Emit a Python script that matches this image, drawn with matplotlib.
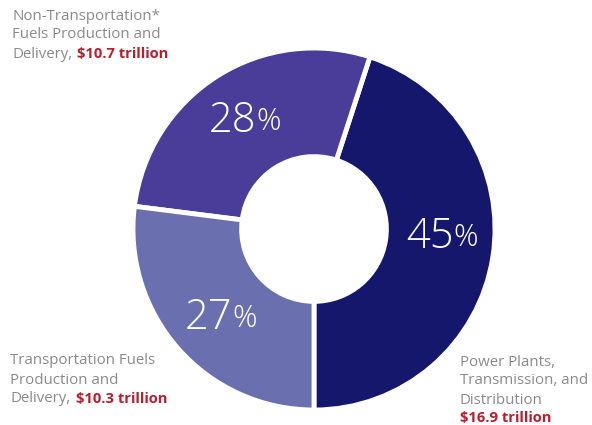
import matplotlib
matplotlib.use('Agg')
import matplotlib.pyplot as plt
import numpy as np

plt.rcParams['font.family'] = ['Open Sans', 'DejaVu Sans']

# data
shares = [45, 28, 27]
pct_labels = ['45', '28', '27']
colors = ['#15176d', '#4a3c99', '#6a6fb0']

W, H = 592, 425
fig = plt.figure(figsize=(W / 100, H / 100), dpi=100)

# donut centre / radius in pixels
cx, cy, R = 314, 229, 181
ax = fig.add_axes([(cx - R) / W, (H - cy - R) / H, 2 * R / W, 2 * R / H])

wedges, _ = ax.pie(shares, colors=colors, startangle=-90, counterclock=True,
                   radius=1.0,
                   wedgeprops=dict(width=0.6, edgecolor='white', linewidth=3.5))
ax.set_xlim(-1, 1)
ax.set_ylim(-1, 1)
ax.set_aspect('equal')
ax.axis('off')

# small nudges of the percent labels (axes units)
nudge = [(0.07, 0.07), (0.06, 0.0), (0.08, -0.02)]
for w, lab, (dx, dy) in zip(wedges, pct_labels, nudge):
    ang = np.deg2rad((w.theta1 + w.theta2) / 2)
    r = 0.71
    x, y = r * np.cos(ang) + dx, r * np.sin(ang) + dy
    ax.text(x, y, lab, color='white', fontsize=30, fontweight='light',
            ha='right', va='center')
    ax.text(x, y - 0.01, '%', color='white', fontsize=22, fontweight='light',
            ha='left', va='center')


def ftext(x, y, s, **kw):
    fig.text(x / W, 1 - y / H, s, va='center', ha='left', **kw)


gray = '#8a8a8a'
red = '#b51f2e'
fs = 10.8
fsr = 10.6

# top-left label
ftext(12, 16, 'Non-Transportation*', color=gray, fontsize=fs)
ftext(12, 35, 'Fuels Production and', color=gray, fontsize=fs)
ftext(12, 54, 'Delivery,', color=gray, fontsize=fs)
ftext(77, 54, '$10.7 trillion', color=red, fontsize=fsr, fontweight='bold')

# bottom-left label
ftext(10, 361, 'Transportation Fuels', color=gray, fontsize=fs)
ftext(10, 380, 'Production and', color=gray, fontsize=fs)
ftext(10, 399, 'Delivery,', color=gray, fontsize=fs)
ftext(76, 399, '$10.3 trillion', color=red, fontsize=fsr, fontweight='bold')

# bottom-right label
ftext(460, 363, 'Power Plants,', color=gray, fontsize=fs)
ftext(460, 381, 'Transmission, and', color=gray, fontsize=fs)
ftext(460, 400, 'Distribution', color=gray, fontsize=fs)
ftext(460, 418, '$16.9 trillion', color=red, fontsize=fsr, fontweight='bold')

fig.savefig('out.png', dpi=100)
